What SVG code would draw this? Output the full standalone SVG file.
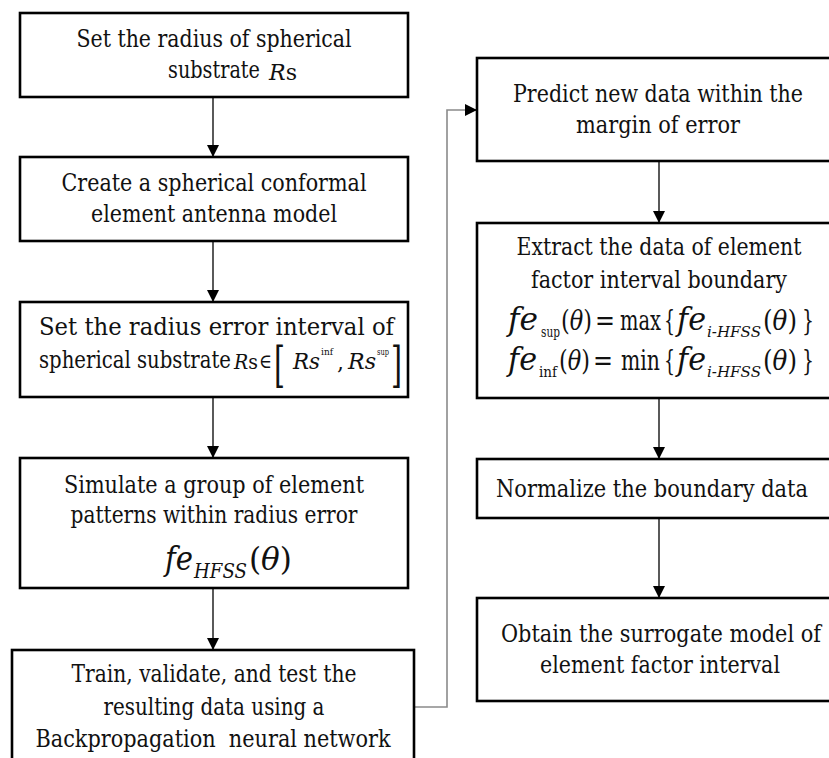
<svg xmlns="http://www.w3.org/2000/svg" width="829" height="758" viewBox="0 0 829 758">
  <style>
    .box { fill: #ffffff; stroke: #000000; stroke-width: 2.6; }
    .t { font-size: 24px; }
    .c { text-anchor: middle; }
    .it { font-style: italic; }
    .flow { fill: none; stroke: #000000; stroke-width: 1.3; }
    .back { fill: none; stroke: #8a8a8a; stroke-width: 1.6; }
  </style>
  <defs>
    <marker id="arrow" viewBox="0 0 12 12" refX="12" refY="6" markerWidth="12" markerHeight="12" markerUnits="userSpaceOnUse" orient="auto">
      <path d="M0,0 L12,6 L0,12 Z" fill="#000000"/>
    </marker>
  </defs>
  <rect width="829" height="758" fill="#ffffff"/>

  <!-- connectors -->
  <g id="connectors">
    <line class="flow" x1="213" y1="97" x2="213" y2="157" marker-end="url(#arrow)"/>
    <line class="flow" x1="213" y1="241" x2="213" y2="302" marker-end="url(#arrow)"/>
    <line class="flow" x1="213" y1="397" x2="213" y2="458" marker-end="url(#arrow)"/>
    <line class="flow" x1="213" y1="588" x2="213" y2="650" marker-end="url(#arrow)"/>
    <polyline class="back" points="414,707 447,707 447,110 466,110"/>
    <line class="flow" x1="465" y1="110" x2="477" y2="110" marker-end="url(#arrow)"/>
    <line class="flow" x1="659" y1="161" x2="659" y2="223" marker-end="url(#arrow)"/>
    <line class="flow" x1="659" y1="398" x2="659" y2="459" marker-end="url(#arrow)"/>
    <line class="flow" x1="659" y1="518" x2="659" y2="598" marker-end="url(#arrow)"/>
  </g>

  <g font-family="DejaVu Serif, serif" fill="#111111" lengthAdjust="spacingAndGlyphs">
  <!-- left column -->
  <g id="set-radius">
    <rect class="box" x="20" y="13" width="388" height="84"/>
    <text class="t c" x="214" y="47" textLength="275" lengthAdjust="spacingAndGlyphs">Set the radius of spherical</text>
    <text class="t" x="168" y="78" textLength="92" lengthAdjust="spacingAndGlyphs">substrate</text>
    <text class="it" x="269" y="80" font-size="23" textLength="28" lengthAdjust="spacingAndGlyphs">R<tspan font-style="normal">s</tspan></text>
  </g>

  <g id="create-model">
    <rect class="box" x="20" y="157" width="388" height="84"/>
    <text class="t c" x="214" y="191" textLength="305" lengthAdjust="spacingAndGlyphs">Create a spherical conformal</text>
    <text class="t c" x="214" y="222" textLength="246" lengthAdjust="spacingAndGlyphs">element antenna model</text>
  </g>

  <g id="radius-interval">
    <rect class="box" x="20" y="302" width="388" height="95"/>
    <text class="t" x="39" y="335" textLength="355" lengthAdjust="spacingAndGlyphs">Set the radius error interval of</text>
    <text class="t" x="39" y="368" textLength="192" lengthAdjust="spacingAndGlyphs">spherical substrate</text>
    <text class="it" x="234" y="369" font-size="21" textLength="24" lengthAdjust="spacingAndGlyphs">R<tspan font-style="normal">s</tspan></text>
    <text x="259" y="368" font-size="20" textLength="13" lengthAdjust="spacingAndGlyphs">∈</text>
    <text x="274" y="382" font-size="48" textLength="11" lengthAdjust="spacingAndGlyphs">[</text>
    <text class="it" x="293" y="369" font-size="22" textLength="27" lengthAdjust="spacingAndGlyphs">Rs</text>
    <text x="321" y="355" font-size="10" textLength="12" lengthAdjust="spacingAndGlyphs">inf</text>
    <text x="337" y="370" font-size="22">,</text>
    <text class="it" x="348" y="369" font-size="22" textLength="28" lengthAdjust="spacingAndGlyphs">Rs</text>
    <text x="377" y="355" font-size="10" textLength="12" lengthAdjust="spacingAndGlyphs">sup</text>
    <text x="391" y="382" font-size="48" textLength="11" lengthAdjust="spacingAndGlyphs">]</text>
  </g>

  <g id="simulate">
    <rect class="box" x="20" y="458" width="388" height="130"/>
    <text class="t c" x="214" y="493" textLength="300" lengthAdjust="spacingAndGlyphs">Simulate a group of element</text>
    <text class="t c" x="214" y="523" textLength="287" lengthAdjust="spacingAndGlyphs">patterns within radius error</text>
    <text class="it" x="165" y="570" font-size="34" textLength="28" lengthAdjust="spacingAndGlyphs">fe</text>
    <text class="it" x="194" y="578" font-size="21" textLength="53" lengthAdjust="spacingAndGlyphs">HFSS</text>
    <text x="249" y="570" font-size="31" textLength="43" lengthAdjust="spacingAndGlyphs">(<tspan font-style="italic">θ</tspan>)</text>
  </g>

  <g id="train-network">
    <rect class="box" x="12" y="650" width="402" height="120"/>
    <text class="t c" x="214" y="682" textLength="285" lengthAdjust="spacingAndGlyphs">Train, validate, and test the</text>
    <text class="t c" x="214" y="715" textLength="221" lengthAdjust="spacingAndGlyphs">resulting data using a</text>
    <text class="t c" x="213" y="747" textLength="355" lengthAdjust="spacingAndGlyphs" xml:space="preserve">Backpropagation  neural network</text>
  </g>

  <!-- right column -->
  <g id="predict">
    <rect class="box" x="477" y="58" width="370" height="103"/>
    <text class="t c" x="658" y="102" textLength="290" lengthAdjust="spacingAndGlyphs">Predict new data within the</text>
    <text class="t c" x="658" y="133" textLength="164" lengthAdjust="spacingAndGlyphs">margin of error</text>
  </g>

  <g id="extract-boundary">
    <rect class="box" x="477" y="223" width="370" height="175"/>
    <text class="t c" x="659" y="255" textLength="285" lengthAdjust="spacingAndGlyphs">Extract the data of element</text>
    <text class="t c" x="659" y="288" textLength="256" lengthAdjust="spacingAndGlyphs">factor interval boundary</text>
    <!-- upper bound -->
    <text class="it" x="508" y="330" font-size="32" textLength="30" lengthAdjust="spacingAndGlyphs">fe</text>
    <text x="541" y="337" font-size="15" textLength="19" lengthAdjust="spacingAndGlyphs">sup</text>
    <text x="561" y="330" font-size="28" textLength="31" lengthAdjust="spacingAndGlyphs">(<tspan font-style="italic">θ</tspan>)</text>
    <text x="595" y="330" font-size="28" textLength="20" lengthAdjust="spacingAndGlyphs">=</text>
    <text x="620" y="330" font-size="28" textLength="41" lengthAdjust="spacingAndGlyphs">max</text>
    <text x="664" y="330" font-size="28" textLength="11" lengthAdjust="spacingAndGlyphs">{</text>
    <text class="it" x="677" y="330" font-size="32" textLength="29" lengthAdjust="spacingAndGlyphs">fe</text>
    <text class="it" x="707" y="337" font-size="15" textLength="54" lengthAdjust="spacingAndGlyphs">i-HFSS</text>
    <text x="763" y="330" font-size="28" textLength="34" lengthAdjust="spacingAndGlyphs">(<tspan font-style="italic">θ</tspan>)</text>
    <text x="802" y="330" font-size="28" textLength="12" lengthAdjust="spacingAndGlyphs">}</text>
    <!-- lower bound -->
    <text class="it" x="508" y="370" font-size="32" textLength="29" lengthAdjust="spacingAndGlyphs">fe</text>
    <text x="539" y="377" font-size="15" textLength="18" lengthAdjust="spacingAndGlyphs">inf</text>
    <text x="559" y="370" font-size="28" textLength="31" lengthAdjust="spacingAndGlyphs">(<tspan font-style="italic">θ</tspan>)</text>
    <text x="593" y="370" font-size="28" textLength="20" lengthAdjust="spacingAndGlyphs">=</text>
    <text x="621" y="370" font-size="28" textLength="39" lengthAdjust="spacingAndGlyphs">min</text>
    <text x="664" y="370" font-size="28" textLength="11" lengthAdjust="spacingAndGlyphs">{</text>
    <text class="it" x="677" y="370" font-size="32" textLength="29" lengthAdjust="spacingAndGlyphs">fe</text>
    <text class="it" x="707" y="377" font-size="15" textLength="54" lengthAdjust="spacingAndGlyphs">i-HFSS</text>
    <text x="763" y="370" font-size="28" textLength="34" lengthAdjust="spacingAndGlyphs">(<tspan font-style="italic">θ</tspan>)</text>
    <text x="802" y="370" font-size="28" textLength="12" lengthAdjust="spacingAndGlyphs">}</text>
  </g>

  <g id="normalize">
    <rect class="box" x="477" y="459" width="370" height="59"/>
    <text class="t c" x="652" y="497" textLength="312" lengthAdjust="spacingAndGlyphs">Normalize the boundary data</text>
  </g>

  <g id="surrogate-model">
    <rect class="box" x="477" y="598" width="370" height="103"/>
    <text class="t c" x="661" y="642" textLength="320" lengthAdjust="spacingAndGlyphs">Obtain the surrogate model of</text>
    <text class="t c" x="660" y="673" textLength="240" lengthAdjust="spacingAndGlyphs">element factor interval</text>
  </g>
  </g>
</svg>
